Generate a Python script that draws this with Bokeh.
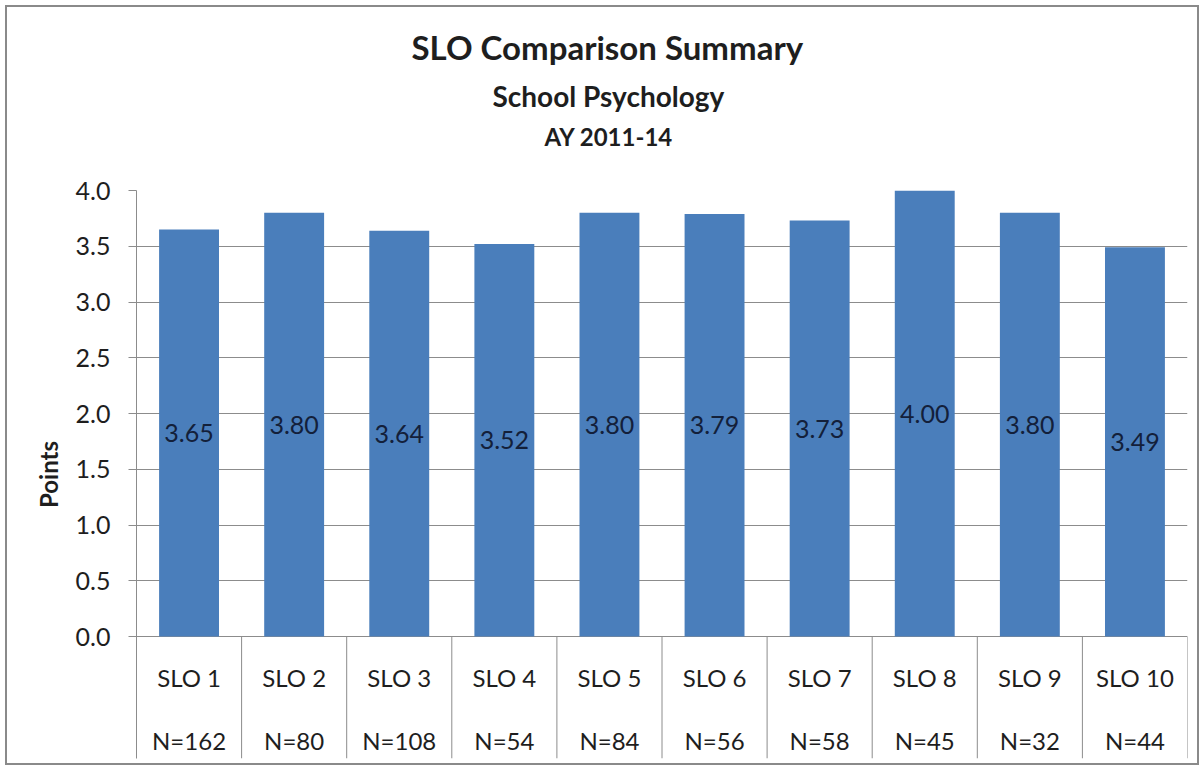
from bokeh.plotting import figure
from bokeh.models import FactorRange, Range1d, FixedTicker, Title, ColumnDataSource, PrintfTickFormatter
from bokeh.transform import dodge
from bokeh.core.properties import value
from bokeh.embed import file_html
from bokeh.resources import INLINE

# ---- data ----
slos = ["SLO 1", "SLO 2", "SLO 3", "SLO 4", "SLO 5", "SLO 6", "SLO 7", "SLO 8", "SLO 9", "SLO 10"]
n_labels = ["N=162", "N=80", "N=108", "N=54", "N=84", "N=56", "N=58", "N=45", "N=32", "N=44"]
points = [3.65, 3.80, 3.64, 3.52, 3.80, 3.79, 3.73, 4.00, 3.80, 3.49]
y_ticks = [0.0, 0.5, 1.0, 1.5, 2.0, 2.5, 3.0, 3.5, 4.0]

FONT = "Lato"
GRID = "#8c8c8c"
TXT = "#1e1e1e"
BAR = "#4A7EBB"

src = ColumnDataSource(dict(
    slo=slos,
    n=n_labels,
    pts=points,
    mid=[v / 2 for v in points],
    lbl=["%.2f" % v for v in points],
    row1=[-0.368] * len(slos),
    row2=[-0.933] * len(slos),
    zero=[0.0] * len(slos),
    bottom=[-1.094] * len(slos),
))

p = figure(
    x_range=FactorRange(*slos),
    y_range=Range1d(-1.094, 4.0),
    width=1190, height=756,
    title=None,
    output_backend="svg",
    toolbar_location=None,
    min_border_left=129, min_border_right=10,
    min_border_top=183, min_border_bottom=5,
)
p.styles = {"margin": "7px 0 0 7px", "outline": "2px solid #8a8a8a", "outline-offset": "0px"}

# titles (first added = nearest the frame); a blank spacer first
spacer = Title(text=" ", text_font=FONT, text_font_size="10px", standoff=22)
t3 = Title(text="AY 2011-14", align="left", text_font=FONT, text_font_size="24px",
           text_font_style="bold", text_color=TXT, standoff=8, offset=408)
t2 = Title(text="School Psychology", align="left", text_font=FONT, text_font_size="28px",
           text_font_style="bold", text_color=TXT, standoff=6, offset=356)
t1 = Title(text="SLO Comparison Summary", align="left", text_font=FONT, text_font_size="33px",
           text_font_style="bold", text_color=TXT, standoff=13, offset=275)
p.add_layout(spacer, "above")
p.add_layout(t3, "above")
p.add_layout(t2, "above")
p.add_layout(t1, "above")

p.outline_line_color = None
p.background_fill_color = "white"
p.border_fill_color = "white"

# bars
p.vbar(x="slo", top="pts", bottom=0, width=0.57, source=src, fill_color=BAR, line_color=None)

# value labels at bar centre
p.text(x="slo", y="mid", text="lbl", source=src, text_align="center", text_baseline="middle",
       text_font=value(FONT), text_font_size="25px", text_color="#13203a")

# category table rows
p.text(x="slo", y="row1", text="slo", source=src, text_align="center", text_baseline="middle",
       text_font=value(FONT), text_font_size="24px", text_color=TXT)
p.text(x="slo", y="row2", text="n", source=src, text_align="center", text_baseline="middle",
       text_font=value(FONT), text_font_size="24px", text_color=TXT)

# vertical separators of the category table
p.segment(x0=dodge("slo", 0.5, range=p.x_range), y0="zero",
          x1=dodge("slo", 0.5, range=p.x_range), y1="bottom",
          source=src, line_color=GRID, line_width=1)

# axes
p.xaxis.visible = False
p.xgrid.grid_line_color = None

ticker = FixedTicker(ticks=y_ticks)
p.yaxis.ticker = ticker
p.ygrid.ticker = ticker
p.ygrid.grid_line_color = GRID
p.ygrid.grid_line_width = 1
p.yaxis.formatter = PrintfTickFormatter(format="%.1f")
p.yaxis.axis_line_color = GRID
p.yaxis.major_tick_line_color = GRID
p.yaxis.major_tick_out = 8
p.yaxis.major_tick_in = 0
p.yaxis.minor_tick_line_color = None
p.yaxis.major_label_text_font = FONT
p.yaxis.major_label_text_font_size = "25px"
p.yaxis.major_label_text_color = TXT
p.yaxis.major_label_standoff = 18
p.yaxis.axis_label = "Points"
p.yaxis.axis_label_text_font = FONT
p.yaxis.axis_label_text_font_size = "24px"
p.yaxis.axis_label_text_font_style = "bold"
p.yaxis.axis_label_text_color = TXT
p.yaxis.axis_label_standoff = 10

open("out.html", "w").write(file_html(p, INLINE))
